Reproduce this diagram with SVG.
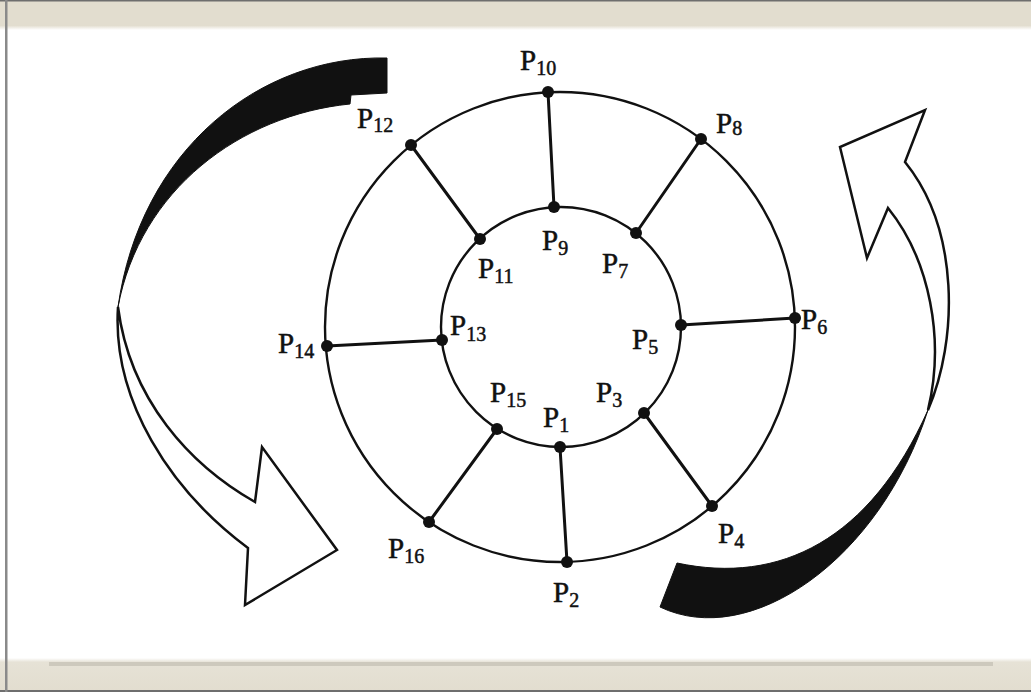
<svg xmlns="http://www.w3.org/2000/svg" width="1031" height="692" viewBox="0 0 1031 692">
<defs>
<linearGradient id="topfade" x1="0" y1="0" x2="0" y2="1">
<stop offset="0" stop-color="#e2ddcf"/>
<stop offset="0.85" stop-color="#e2ddcf"/>
<stop offset="1" stop-color="#ffffff"/>
</linearGradient>
<linearGradient id="botfade" x1="0" y1="0" x2="0" y2="1">
<stop offset="0" stop-color="#ffffff"/>
<stop offset="0.12" stop-color="#e6e2d6"/>
<stop offset="1" stop-color="#e2ddcf"/>
</linearGradient>
</defs>
<style>
.ring{fill:none;stroke:#111;stroke-width:2.4}
.spoke{stroke:#111;stroke-width:3;stroke-linecap:round}
.dot{fill:#111}
.lbl{font-family:"Liberation Serif","Times New Roman",serif;font-size:29px;fill:#111;stroke:#111;stroke-width:0.5}
.sub{font-size:20px}
.outl{fill:#fff;stroke:#111;stroke-width:2.5;stroke-linejoin:miter}
.solid{fill:#111;stroke:#111;stroke-width:1}
</style>
<rect x="0" y="0" width="1031" height="692" fill="#ffffff"/>
<rect x="0" y="0" width="1031" height="30" fill="url(#topfade)"/>
<rect x="0" y="0" width="1031" height="1.5" fill="#6e6e6e"/>
<rect x="0" y="658" width="1031" height="34" fill="url(#botfade)"/>
<rect x="49" y="662" width="944" height="4" fill="#cdc9bd"/>
<rect x="0" y="690" width="1031" height="2" fill="#6e6e6e"/>
<rect x="5" y="0" width="2.5" height="692" fill="#8a8a8a"/>

<g id="arrows">
<path class="solid" d="M387,58 C260,55 140,150 118,307 C140,190 240,115 350,104 L351,95 L387,93 Z"/>
<path class="outl" d="M118,307 C112,400 170,490 248,548 L245,605 L337,550 L262,447 L255,502 C190,465 130,400 118,307 Z"/>
<path class="solid" d="M660,607 C750,650 880,560 928,410 C870,540 780,585 677,563 Z"/>
<path class="outl" d="M928,410 C958,340 960,230 905,162 L925,110 L840,147 L867,258 L888,208 C930,260 945,340 928,410 Z"/>
</g>

<g id="rings">
<circle class="ring" cx="560" cy="327" r="235"/>
<circle class="ring" cx="561" cy="327" r="120"/>
</g>

<g id="connectors">
<line class="spoke" x1="560" y1="447" x2="567" y2="562"/>
<line class="spoke" x1="644" y1="413" x2="712" y2="506"/>
<line class="spoke" x1="681" y1="325" x2="795" y2="318"/>
<line class="spoke" x1="636" y1="233" x2="701" y2="139"/>
<line class="spoke" x1="554" y1="207" x2="548" y2="92"/>
<line class="spoke" x1="480" y1="239" x2="411" y2="145"/>
<line class="spoke" x1="442" y1="340" x2="327" y2="346"/>
<line class="spoke" x1="497" y1="429" x2="429" y2="522"/>
</g>

<g id="P1"><circle class="dot" cx="560" cy="447" r="6"/><text class="lbl" x="543" y="427">P<tspan class="sub" dy="5">1</tspan></text></g>
<g id="P2"><circle class="dot" cx="567" cy="562" r="6"/><text class="lbl" x="553" y="602">P<tspan class="sub" dy="5">2</tspan></text></g>
<g id="P3"><circle class="dot" cx="644" cy="413" r="6"/><text class="lbl" x="596" y="402">P<tspan class="sub" dy="5">3</tspan></text></g>
<g id="P4"><circle class="dot" cx="712" cy="506" r="6"/><text class="lbl" x="718" y="543">P<tspan class="sub" dy="5">4</tspan></text></g>
<g id="P5"><circle class="dot" cx="681" cy="325" r="6"/><text class="lbl" x="632" y="349">P<tspan class="sub" dy="5">5</tspan></text></g>
<g id="P6"><circle class="dot" cx="795" cy="318" r="6"/><text class="lbl" x="801" y="329">P<tspan class="sub" dy="5">6</tspan></text></g>
<g id="P7"><circle class="dot" cx="636" cy="233" r="6"/><text class="lbl" x="602" y="273">P<tspan class="sub" dy="5">7</tspan></text></g>
<g id="P8"><circle class="dot" cx="701" cy="139" r="6"/><text class="lbl" x="716" y="133">P<tspan class="sub" dy="2">8</tspan></text></g>
<g id="P9"><circle class="dot" cx="554" cy="207" r="6"/><text class="lbl" x="542" y="250">P<tspan class="sub" dy="5">9</tspan></text></g>
<g id="P10"><circle class="dot" cx="548" cy="92" r="6"/><text class="lbl" x="520" y="70">P<tspan class="sub" dy="5">10</tspan></text></g>
<g id="P11"><circle class="dot" cx="480" cy="239" r="6"/><text class="lbl" x="478" y="278">P<tspan class="sub" dy="5">11</tspan></text></g>
<g id="P12"><circle class="dot" cx="411" cy="145" r="6"/><text class="lbl" x="357" y="128">P<tspan class="sub" dy="4">12</tspan></text></g>
<g id="P13"><circle class="dot" cx="442" cy="340" r="6"/><text class="lbl" x="450" y="335">P<tspan class="sub" dy="6">13</tspan></text></g>
<g id="P14"><circle class="dot" cx="327" cy="346" r="6"/><text class="lbl" x="278" y="353">P<tspan class="sub" dy="5">14</tspan></text></g>
<g id="P15"><circle class="dot" cx="497" cy="429" r="6"/><text class="lbl" x="490" y="402">P<tspan class="sub" dy="5">15</tspan></text></g>
<g id="P16"><circle class="dot" cx="429" cy="522" r="6"/><text class="lbl" x="388" y="558">P<tspan class="sub" dy="5">16</tspan></text></g>
</svg>
